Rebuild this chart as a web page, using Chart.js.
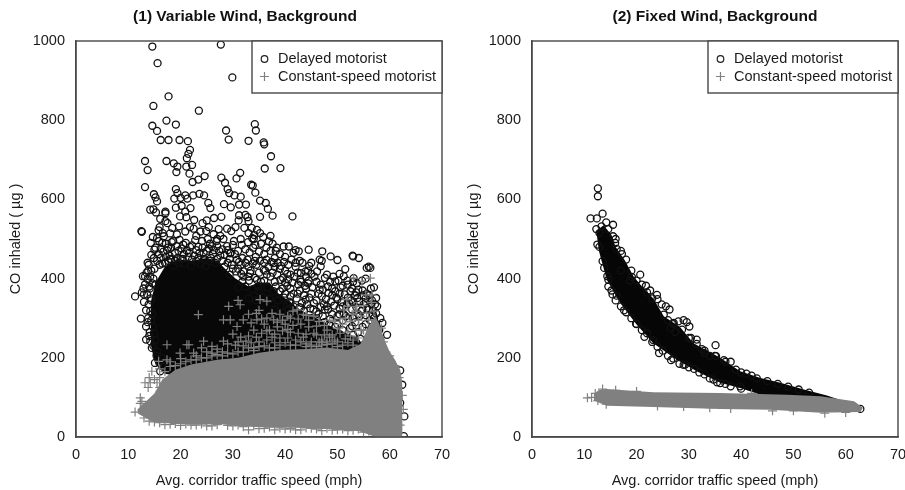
<!DOCTYPE html>
<html>
<head>
<meta charset="utf-8">
<script src="https://cdn.jsdelivr.net/npm/chart.js@4/dist/chart.umd.min.js"></script>
<style>
  html, body { margin: 0; padding: 0; background: #fff; overflow: hidden; width: 905px; height: 490px; }
  .panel { position: absolute; top: 0; height: 490px; width: 452px; filter: blur(0.35px); }
  #leftPanel { left: 0; }
  /* wider than the window: the last tick label would otherwise push the plot edge in */
  #rightPanel { left: 452px; width: 472px; }
</style>
</head>
<body>
<div class="panel" id="leftPanel"><canvas id="variableChart"></canvas></div>
<div class="panel" id="rightPanel"><canvas id="fixedChart"></canvas></div>
<script>
// All values: [speed mph, CO inhaled]
const xTicks = [0, 10, 20, 30, 40, 50, 60, 70];
const yTicks = [0, 200, 400, 600, 800, 1000];
const seriesNames = ['Delayed motorist', 'Constant-speed motorist'];
const panelTitles = ['(1) Variable Wind, Background', '(2) Fixed Wind, Background'];
const xAxisTitle = 'Avg. corridor traffic speed (mph)';
const yAxisTitle = 'CO inhaled ( µg )';

// Panel 1: solid parts of the clouds, as read upper and lower outlines
const variableDelayedTop = [[14.2,240],[14.3,340],[15.2,390],[17,430],[19,445],[22,445],[25,452],[27,445],[28.5,425],[30.5,400],[33,380],[35,390],[37,390],[38.5,365],[41,340],[43,320],[46,300],[50,270],[54,250],[57,180]];
const variableDelayedBottom = [[14.2,240],[15,190],[17,160],[25,140],[40,120],[57,110]];
const variableConstantTop = [[11.8,70],[13,85],[15,110],[16.5,145],[19,170],[22,183],[27,195],[31,200],[35,213],[39,220],[44,222],[48,226],[52,220],[54.4,235],[55.8,275],[57.2,305],[58,285],[59,245],[60,215],[61,195],[62,170],[62.6,120],[62.8,50],[62.4,0]];
const variableConstantBottom = [[11.8,60],[14.8,38],[22,32],[28,32],[35,25],[42,24],[48,20],[54,16],[57.5,0],[62.4,0]];

// Panel 2: solid parts of the clouds
const fixedDelayedTop = [[12.3,520],[13.7,535],[15.2,510],[16,480],[17.8,445],[19.4,406],[20.7,385],[23.2,350],[25.2,305],[28.3,278],[30.9,237],[36,200],[39.8,166],[43.7,149],[47.5,137],[52,120],[56.4,105],[61.6,82],[63,71]];
const fixedDelayedBottom = [[12.3,520],[12.8,470],[14.3,397],[16.9,338],[20,284],[23.2,237],[27.7,195],[31.5,166],[36,137],[39.8,124],[43.7,107],[48.8,103],[55.2,95],[63,71]];
const fixedConstantTop = [[11.8,108],[12.7,118],[14.3,121],[23.2,113],[36,111],[48.8,107],[55.2,103],[61.6,90],[63.3,74]];
const fixedConstantBottom = [[11.8,92],[14.3,79],[23.2,76],[36,71],[45.6,69],[55.2,61],[62.8,63],[63.3,74]];

const variableDelayedUpper = [
  [14.6,986],[15.6,944],[27.7,991],[29.9,908],[17.7,860],[14.8,836],[23.5,824],[17.3,799],[14.6,786],[15.5,773],[19.1,789],
  [16.2,750],[17.7,750],[19.8,750],[21.4,747],[21.8,725],[21.5,715],[21.2,704],[28.7,774],[29.2,751],[33,748],[34.2,790],
  [34.4,774],[35.9,744],[36,739],[37.3,709],[13.2,697],[13.7,674],[17.3,697],[18.7,691],[19.4,683],[19.2,669],[21.1,683],
  [22.2,687],[21.7,665],[36.1,678],[39.1,679],[24.6,659],[23.4,650],[22.3,644],[27.8,655],[28.5,642],[30.7,653],[31.4,667],
  [13.2,631],[33.5,637],[33.8,635],[29,626],[29.3,616],[19.1,626],[14.9,613],[15.2,605],[15.5,595],[14.2,574],[14.8,575],
  [15.3,567],[16.1,551],[17.1,569],[17.1,565],[17.1,545],[17.5,540],[19.4,616],[18.8,602],[20,604],[20.9,610],[21.3,602],
  [22.4,610],[23.6,614],[24.5,610],[25.3,591],[25.7,578],[20.2,584],[19.1,579],[20.9,569],[21.9,578],[19.9,557],[21.1,555],
  [22.6,548],[25,547],[26.4,553],[27.8,556],[28.3,588],[29.6,580],[31.2,587],[32.5,587],[31.5,607],[30.3,610],[35.2,597],
  [36.3,591],[34.3,617],[36.7,576],[37.6,559],[35.2,556],[41.4,557],[32.4,561],[31.1,547],[33,545],[12.6,518],[12.5,520],
  [14.7,505],[15.5,502],[16.8,507],[18,514],[19.7,532],[20.9,519],[22.5,526],[23.8,519],[27.3,525],[28.9,526],[27,500],
  [28.2,500],[34.6,523],[35.2,515],[37.2,508],[33.7,502],[34.3,485],[36.9,494],[39.7,481],[40.7,481],[31.7,485],[32.4,474],
  [44.5,473],[42.6,469],[41.6,465],[42,472],[47.1,469],[48.7,456],[50,447],[52.9,458],[53,456],[54.1,452],[15,473],[14.4,460],
  [16.5,490],[17.6,478],[18.6,495],[19.6,470],[20.5,486],[21.6,465],[22.8,497],[23.4,480],[24.4,465],[25.4,530],[25.2,500],
  [26,482],[24.2,540],[16,530],[30,485],[31,470],[33.6,528],[34.1,510],[35.8,505],[36.4,478],[37.6,488],[38.2,470],[33,515],
  [29.6,465],[27.4,470],[26.2,462],[35,468],[39,462],[40,455],[42.8,445],[45,440],[47,445],[38,452],[31.2,560],[32.8,555],[34,500]
];
const variableDelayedLower = [
  [13.9,435],[13.7,440],[12.8,406],[13.7,399],[12.6,365],[11.3,355],[13,341],[13.4,320],[12.4,299],[13.4,279],[13.4,246],
  [14.2,242],[14.5,225],[15.1,187],[16.1,166],[46.6,448],[46.8,431],[46.1,418],[48,410],[49.6,393],[51.5,424],[51.2,406],
  [53.1,401],[54.7,395],[56.3,427],[55.6,427],[56,430],[57,378],[57.4,351],[57.6,330],[58.6,288],[59.5,258],[58.2,246],
  [62,168],[62.4,132],[62.8,52],[62,86],[62.7,2],[48.3,364],[50,348],[52.5,368],[53.8,351],[55.4,338],[51,330],[48,330],
  [46,317],[45.5,338],[43.9,347],[41,338],[43,414],[43.9,418],[39.1,397],[37.8,439],[35.9,422],[34.6,397],[33.3,414],[32.1,418],
  [30.8,448],[29.5,464],[42,430],[41,410],[44.5,395],[45.6,405],[46.8,385],[49,375],[52,385],[47,355],[44,375],[42.5,385],
  [41,375],[40,420],[38.5,410],[39.5,375],[38,430],[36.5,410],[36,440],[34.5,435],[33,430],[31.5,435],[30,425],[29,440],
  [28,445],[27,450],[25.5,445],[24.5,450],[23,445],[21.5,455],[20,450],[19,445],[18,450],[17,440],[16,435],[15,425],[14.8,400],
  [14,380],[15.2,385],[14.3,350],[13.8,300],[14.1,265],[14.6,310],[15.6,215],[16.4,200],[53.6,365],[54.8,370],[56,358],
  [53,340],[56.5,335],[50.4,310],[52,300],[54,310],[50,285],[45,300],[43,325],[57,300],[58,270],[56.8,320],[47.5,290],[49,265]
];
const variableDelayedDense = [
  [15.8,522],[16.6,515],[18.4,528],[19.3,512],[21.8,530],[23,508],[24.9,520],[26.3,512],[27.6,508],[29.7,520],[30.5,530],[32.2,528],
  [14.3,490],[15.9,495],[17.2,488],[18.3,492],[19.8,498],[21,490],[22.2,484],[24.1,495],[25.6,488],[26.9,495],[28.9,482],[30.2,495],
  [31.5,500],[32.9,492],[33.9,478],[35.4,488],[14.9,452],[15.8,462],[16.7,468],[17.9,458],[18.9,465],[20.6,462],[21.2,470],[22.6,458],
  [23.6,465],[25,470],[27,482],[28.4,460],[30.4,462],[31.8,452],[33.2,466],[34.4,455],[36,462],[37.2,470],[38.4,478],[14.4,420],
  [15.5,445],[16.5,438],[17.6,445],[18.6,432],[19.7,440],[20.7,438],[22,432],[23.8,438],[24.8,432],[26.6,440],[28.4,430],[29.8,435],
  [31,425],[32.4,440],[33.8,438],[35.2,445],[36.8,430],[38.6,440],[39.8,442],[41.2,448],[43.3,440],[44.6,432],[29.4,410],[30.6,418],
  [32,405],[33.1,395],[34.2,402],[35.4,392],[37.2,405],[38,392],[39.6,402],[40.6,398],[41.8,405],[42.9,398],[44,405],[45,412],
  [47.6,402],[49.2,405],[50.4,412],[51.9,395],[53.7,388],[55.4,400],[31,378],[32.4,380],[33.8,372],[35,368],[36.6,378],[38.2,380],
  [39,368],[40.4,382],[41.6,362],[42.8,370],[43.8,382],[45.2,378],[46.4,362],[48.2,380],[49.6,368],[50.6,378],[51.4,360],[52.8,375],
  [54,372],[55.6,362],[56.4,375],[33,350],[34.4,345],[35.8,352],[37,348],[38.6,345],[39.8,352],[40.8,342],[42.2,350],[43.2,338],
  [44.6,352],[46,345],[47.4,335],[48.8,342],[49.8,352],[51.8,335],[52.6,345],[54.2,342],[55.4,350],[56.6,345],[57.2,335],[38,322],
  [39.4,315],[40.6,322],[42,310],[43.6,318],[44.8,325],[46.4,310],[47.6,322],[49,310],[50.4,325],[51.2,310],[52.8,322],[54.6,318],
  [55.6,325],[57.4,312],[58.2,300],[42.6,290],[44,280],[45.4,288],[46.6,272],[48.4,285],[49.6,278],[51,295],[52.4,275],[53.4,290],
  [54.8,278],[56.2,295],[47,255],[48.8,248],[50.4,260],[51.8,250],[53,258],[54.4,248],[13.8,420],[14.2,405],[14.6,388],[14.1,375],
  [13.6,360],[14.4,345],[13.9,335],[14.2,318],[13.7,290],[14.4,295],[14.7,278],[14,255],[14.9,262],[15.2,245],[14.8,230],[15.4,205],
  [15.9,188],[16.6,178],[13.2,385],[13,360],[12.9,375],[13.2,405],[13.5,415]
];
const variableDelayedExtra = [
  [15.2,478],[16.2,475],[17.4,472],[18.2,478],[19.2,482],[20.2,476],[21.8,480],[23,472],[24.2,478],[25.4,476],[26.4,472],[28,474],
  [29,472],[16.2,452],[17.2,455],[18.2,448],[19.4,452],[20.4,450],[22.2,448],[23.4,452],[24.6,446],[25.8,452],[27.6,458],[29.4,450],
  [31.2,442],[32.8,448],[34.2,445],[36.4,448],[37.4,442],[39.2,432],[40.6,435],[42,440],[31.6,412],[33.4,420],[35,415],[36.2,420],
  [37.6,415],[39,425],[40.4,412],[42.4,415],[44.4,420],[31.8,392],[33,405],[34.8,380],[36,395],[37.8,368],[40,390],[41.4,390],
  [43,392],[44.4,388],[46,392],[47.2,372],[48.6,392],[50.2,395],[51,382],[53,392],[40,362],[41,355],[42.4,362],[43.6,358],[45,362],
  [46.6,372],[47.8,348],[49,358],[50.4,362],[52,352],[53.4,358],[55,358],[40.4,335],[41.6,330],[42.8,328],[44.2,335],[45.4,322],
  [46.8,328],[48.2,322],[49.4,332],[50.8,340],[52.2,338],[53.6,328],[55,335],[56,322],[46,298],[47.2,305],[48.6,298],[50,305],
  [51.6,305],[53,300],[54.2,305],[55.4,308],[56.8,308],[51,270],[52.8,280],[54,265],[55.4,285],[56.4,270],[57.4,285]
];
const variableConstantCrosses = [
  [17.4,233],[21.2,233],[21.6,233],[23.4,309],[19.9,212],[22.5,212],[24.4,242],[26,229],[28.2,242],[28.2,296],[29.5,296],
  [29.2,330],[31.4,334],[30.8,279],[32,296],[34.6,296],[36.5,300],[37.8,296],[35.2,347],[36.5,343],[40.5,305],[42.3,321],
  [44,307],[46,280],[48,270],[50,275],[51.2,321],[53.1,401],[56.3,401],[54.7,393],[56.6,359],[55.4,359],[51.8,347],[53.7,330],
  [55.6,313],[15.8,191],[17.4,195],[14.5,166],[13.2,137],[14.2,137],[15.5,137],[16.1,116],[12.3,99],[12.6,90],[11.3,63],[12.3,85],
  [12.6,68],[18,178],[20,198],[23,205],[25,215],[27,222],[29,235],[31,240],[33,255],[34,270],[35,240],[36,285],[38,260],
  [39,250],[40,285],[41,265],[42,245],[43,285],[44,260],[45,240],[46,258],[47,245],[48,240],[49,258],[50,240],[51,285],
  [52,265],[53,245],[54,295],[53,310],[52,330],[30,260],[32,230],[28,215],[26,205],[22,195],[24,225],[33,310],[35,320],
  [37,270],[39,310],[41,300],[38,225],[44,235],[47,232],[31,345],[34,225],[16,125],[15,145],[14,150],[13.8,125],[16,172],
  [58.4,275],[58.8,240],[60,205],[61,180],[61.8,150],[62.4,105],[62.6,70],[62,30],[60,10],[58,4],[56,15],[50,18],[45,22],
  [40,20],[36,22],[33,18],[30,28],[26,28],[22,30],[18,32],[15,38],[13,48],[38,18],[43,18],[47,16],[52,16],
  [14,40],[16,36],[17,31],[19,34],[20,29],[21,33],[23,30],[24,33],[25,28],[27,31],[29,29],[31,30],[32,26],[34,28],[35,21],
  [37,25],[39,23],[41,22],[42,18],[44,23],[46,20],[48,22],[49,17],[51,20],[53,17],[54,20],[55,12],[57,6],
  [16,150],[17,165],[18,190],[19,180],[20,185],[21,190],[23,195],[24,200],[25,200],[26,212],[27,208],[28,205],[29,212],[30,210],
  [31,215],[32,215],[33,225],[34,218],[35,228],[36,230],[37,225],[38,238],[39,232],[40,238],[41,232],[42,232],[43,240],[44,228],
  [45,232],[46,228],[47,238],[48,234],[49,235],[50,228],[51,232],[52,238],[53,232],[54,250],[55,270],[56,295],[57,318],[54.5,270],
  [30.5,232],[31.5,252],[32.5,242],[33.5,238],[34.5,252],[35.5,262],[36.5,245],[37.5,252],[38.5,278],[39.5,268],[40.5,250],[41.5,282],
  [42.5,262],[43.5,252],[44.5,278],[45.5,262],[46.5,240],[47.5,258],[48.5,252],[49.5,245],[50.5,262],[51.5,248],[52.5,255],[53.5,270],
  [33.5,288],[34.5,312],[35.5,298],[36.5,268],[37.5,312],[38.5,290],[39.5,295],[40.5,272],[41.5,318],[42.5,298],[43.5,310],[44.5,295],
  [45.5,305],[46.5,292],[47.5,282],[48.5,295],[49.5,292],[50.5,298],[51.5,300],[52.5,292],[53.5,318],[54.5,305],[55,332],[56.5,340]
];

const fixedDelayedCircles = [
  [12.6,628],[12.6,608],[13.5,564],[11.2,552],[12.4,552],[14.2,542],[15.5,536],[12.3,525],[13.3,532],[14.6,525],[12.9,515],
  [15.5,507],[15.9,490],[12.5,486],[12.9,480],[16.2,475],[17.2,462],[18,448],[13.5,444],[13.8,427],[14.4,406],[14.6,397],
  [20.7,410],[19.1,404],[21.8,382],[22.6,370],[23.9,359],[24,348],[25.6,330],[26.3,322],[25.2,309],[27.1,288],[28,292],
  [29,295],[29.6,290],[30.1,279],[28.7,271],[31.5,246],[31.5,235],[35.1,232],[24.3,212],[26.6,194],[21.5,253],[19.9,286],
  [16.2,357],[36.7,194],[35.2,204],[37,134],[35.4,138],[34.7,145],[39.8,128],[29.3,183],[62.8,71],[17,420],[18.7,395],
  [15.2,370],[16,345],[17.6,320],[19,300],[22,262],[23.2,245],[26,205],[28.2,185],[31,172],[33,158],[38,190],[34,205],
  [33,212],[24.8,335],[27.4,265],[26.5,275],[30.4,250],[32.5,222],[41,160],[42,155],
  [14.6,380],[15.4,360],[17,330],[18,315],[20,285],[21,270],[23,240],[24,228],[25,218],[27,198],[29,182],[30,176],[32,163],
  [34,148],[36,136],[38,128],[40,122],[16,500],[17,470],[19,420],[20,395],[21,385],[22,365],[23,350],[26,295],[27,285],[30,250],
  [33,218],[35,205],[37,190],[39,170],[40,163],[43,148],[45,141],[47,134],[49,127],[51,120],[53,112]
];
const fixedConstantCrosses = [
  [10.6,99],[11.4,100],[12.1,110],[12.6,92],[13.5,121],[14.2,83],[16,118],[20,115],[24,78],[29,77],[34,74],[38,72],[42,110],
  [46,66],[50,66],[56,60],[60,62]
];

// frame, panel title and boxed legend, all placed from the chart area
const framePlugin = {
  id: 'frame',
  afterDatasetsDraw(chart, args, opts) {
    const { ctx, chartArea: a } = chart;
    ctx.save();
    ctx.strokeStyle = '#484848';
    ctx.lineWidth = 1.4;
    ctx.strokeRect(a.left, a.top, a.right - a.left, a.bottom - a.top);

    const boxLeft = a.right - 190;
    ctx.fillStyle = '#fff';
    ctx.fillRect(boxLeft, a.top, 190, 52);
    ctx.strokeRect(boxLeft, a.top, 190, 52);

    ctx.strokeStyle = '#222';
    ctx.lineWidth = 1.2;
    ctx.beginPath();
    ctx.arc(boxLeft + 12.5, a.top + 18, 3.3, 0, Math.PI * 2);
    ctx.stroke();
    ctx.strokeStyle = '#808080';
    ctx.beginPath();
    ctx.moveTo(boxLeft + 8, a.top + 35.5);
    ctx.lineTo(boxLeft + 17, a.top + 35.5);
    ctx.moveTo(boxLeft + 12.5, a.top + 31);
    ctx.lineTo(boxLeft + 12.5, a.top + 40);
    ctx.stroke();

    ctx.fillStyle = '#1a1a1a';
    ctx.font = '14.5px "Liberation Sans"';
    ctx.textBaseline = 'middle';
    ctx.fillText(seriesNames[0], boxLeft + 26, a.top + 18);
    ctx.fillText(seriesNames[1], boxLeft + 26, a.top + 35.5);

    ctx.fillStyle = '#111';
    ctx.font = 'bold 15.5px "Liberation Sans"';
    ctx.textAlign = 'center';
    ctx.fillText(opts.title, opts.titleX, 17);
    ctx.restore();
  }
};

function toPoints(pairs) {
  return pairs.map(p => ({ x: p[0], y: p[1] }));
}

function outline(pairs, fillTo, color, order) {
  return {
    data: toPoints(pairs), showLine: true, pointRadius: 0, borderWidth: 0, borderColor: color,
    backgroundColor: color, fill: fillTo, order: order
  };
}

function marks(pairs, style, order) {
  const isCircle = style === 'circle';
  return {
    data: toPoints(pairs), pointStyle: isCircle ? 'circle' : 'cross', pointRadius: isCircle ? 3.5 : 4.5,
    pointBorderWidth: isCircle ? 1.3 : 1.2, pointBorderColor: isCircle ? '#111' : '#808080',
    pointBackgroundColor: 'transparent', order: order
  };
}

function buildChart(canvasId, title, titleX, datasets, yWidth, rightPad, yTitleGap) {
  const axisFont = { family: '"Liberation Sans"', size: 14.5 };
  return new Chart(document.getElementById(canvasId), {
    type: 'scatter',
    data: { datasets: datasets },
    plugins: [framePlugin],
    options: {
      responsive: true,
      maintainAspectRatio: false,
      animation: false,
      events: [],
      layout: { autoPadding: false, padding: { top: 41, right: rightPad, bottom: 0 } },
      plugins: {
        legend: { display: false },
        tooltip: { enabled: false },
        frame: { title: title, titleX: titleX }
      },
      scales: {
        x: {
          type: 'linear', min: 0, max: 70,
          afterBuildTicks: s => { s.ticks = xTicks.map(v => ({ value: v })); },
          afterFit: s => { s.height = 53; },
          grid: { display: false, drawTicks: true, tickLength: 8, tickColor: '#484848' },
          border: { color: '#484848', width: 1.4 },
          ticks: { color: '#1a1a1a', font: axisFont, padding: 1, maxRotation: 0 },
          title: { display: true, text: xAxisTitle, color: '#1a1a1a', font: axisFont, padding: { top: 3, bottom: 0 } }
        },
        y: {
          type: 'linear', min: 0, max: 1000,
          afterBuildTicks: s => { s.ticks = yTicks.map(v => ({ value: v })); },
          afterFit: s => { s.width = yWidth; },
          grid: { display: false, drawTicks: true, tickLength: 8, tickColor: '#484848' },
          border: { color: '#484848', width: 1.4 },
          ticks: { color: '#1a1a1a', font: axisFont, padding: 3, callback: v => String(v) },
          title: { display: true, text: yAxisTitle, color: '#1a1a1a', font: axisFont, padding: { top: yTitleGap, bottom: 0 } }
        }
      }
    }
  });
}

// drawing order: lower order number ends up on top
buildChart('variableChart', panelTitles[0], 245, [
  outline(variableDelayedTop, 1, '#080808', 9),
  outline(variableDelayedBottom, false, '#080808', 9),
  marks(variableDelayedUpper, 'circle', 8),
  marks(variableDelayedLower, 'circle', 7),
  marks(variableDelayedDense, 'circle', 6),
  marks(variableDelayedExtra, 'circle', 5),
  outline(variableConstantTop, 7, '#808080', 3),
  outline(variableConstantBottom, false, '#808080', 3),
  marks(variableConstantCrosses, 'cross', 2)
], 76, 10, 7);

buildChart('fixedChart', panelTitles[1], 263, [
  outline(fixedDelayedTop, 1, '#060606', 9),
  outline(fixedDelayedBottom, false, '#060606', 9),
  marks(fixedDelayedCircles, 'circle', 8),
  outline(fixedConstantTop, 4, '#808080', 3),
  outline(fixedConstantBottom, false, '#808080', 3),
  marks(fixedConstantCrosses, 'cross', 2)
], 80, 26, 13);
</script>
</body>
</html>
